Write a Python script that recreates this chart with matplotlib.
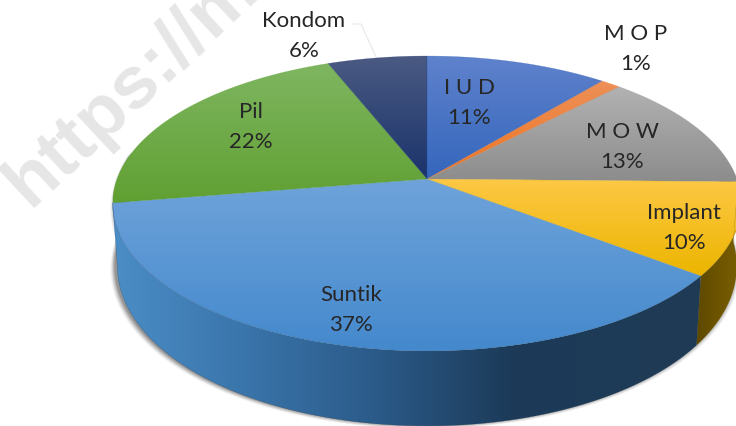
import numpy as np
import matplotlib
matplotlib.use("Agg")
import matplotlib.pyplot as plt
from matplotlib.colors import LinearSegmentedColormap
from matplotlib.patches import Polygon

labels = ["I U D", "M O P", "M O W", "Implant", "Suntik", "Pil", "Kondom"]
# shares, the labels show them rounded
values = [11.0, 1.2, 13.1, 10.1, 37.0, 21.6, 6.0]

top_colors = ["#5f82cc", "#ee9058", "#b2b2b2", "#fdc845", "#6fa3da", "#7fb661", "#4a5a82"]
low_colors = ["#3466bc", "#ed7420", "#8c8c8c", "#ecb500", "#4489cd", "#60a032", "#1a336b"]
label_pos = [(469, 103), (636, 49), (622, 147), (684, 228), (351, 310), (251, 127), (304, 36)]

plt.rcParams["font.family"] = ["Lato", "DejaVu Sans"]

# picture is laid out in pixel coordinates
fig = plt.figure(figsize=(7.36, 4.27), dpi=100)
ax = fig.add_axes([0, 0, 1, 1])
ax.axis("off")

cx, cy, rx = 427, 180, 310
c, a = 0.166, -113.5


def rim(theta, bottom=False):
    # theta in degrees clockwise from the back of the pie, perspective projection
    t = np.radians(theta)
    u, v = np.sin(t), np.cos(t)
    x = rx * u / (1 + c * v)
    y = (a * v + cy) / (1 + c * v)
    if bottom:
        x = x * 0.985
        y = y + 60 - 15 * v
    return cx + x, y


def gradient(poly, colors, horizontal=False, stops=None):
    xs, ys = poly[:, 0], poly[:, 1]
    patch = Polygon(poly, closed=True, fc="none", ec="none")
    ax.add_patch(patch)
    if stops is None:
        stops = np.linspace(0, 1, len(colors))
    cmap = LinearSegmentedColormap.from_list("g", list(zip(stops, colors)))
    g = np.linspace(0, 1, 256)
    g = g.reshape(1, -1) if horizontal else g.reshape(-1, 1)
    im = ax.imshow(g, cmap=cmap, vmin=0, vmax=1, aspect="auto",
                   extent=[xs.min(), xs.max(), ys.max(), ys.min()],
                   interpolation="bilinear", zorder=2)
    im.set_clip_path(patch)
    # thin edge hides the hard clip
    ax.add_patch(Polygon(poly, closed=True, fc="none", ec=colors[-1], lw=0.3, alpha=0.5, zorder=2.1))


# watermark
ax.text(30, 208, "https://me", rotation=43, rotation_mode="anchor", ha="left", va="baseline",
        fontsize=54, fontweight="bold", color="#e6e6e6", family="Liberation Sans", zorder=1)

# Kondom leader line
ax.plot([352, 361, 377], [25, 25, 60], color="#e8e8e8", lw=0.8, zorder=1.5)

edges = 360 * np.cumsum([0] + values) / sum(values)

# soft shadow under the side wall
th = np.linspace(80, 280, 200)
bx, by = rim(th, bottom=True)
for grow, alpha in zip([5, 4, 3, 2, 1], [0.06, 0.1, 0.14, 0.18, 0.24]):
    sx = cx + (bx - cx) * (1 + grow / 310) - 2
    sy = by + grow * 0.8 - 1
    ax.fill(np.r_[sx, sx[::-1]], np.r_[sy, sy[::-1] - 60], color="#404040", alpha=alpha, lw=0, zorder=1.6)

# side wall, only Implant and Suntik face the viewer
for i, wall_colors, stops in [(3, ["#5e4900", "#6e5500", "#7a5f00"], None),
                              (4, ["#4b8dc6", "#3a75ab", "#2b5a88", "#1c3a58", "#1f3b55"], [0, 0.22, 0.45, 0.68, 1])]:
    th = np.linspace(edges[i], edges[i + 1], 120)
    xt, yt = rim(th)
    xb, yb = rim(th, bottom=True)
    poly = np.column_stack([np.r_[xt, xb[::-1]], np.r_[yt, yb[::-1]]])
    gradient(poly, wall_colors, horizontal=True, stops=stops)

# top of the pie
for i in range(len(values)):
    th = np.linspace(edges[i], edges[i + 1], 120)
    xt, yt = rim(th)
    poly = np.column_stack([np.r_[cx, xt], np.r_[cy, yt]])
    gradient(poly, [top_colors[i], low_colors[i]])

for name, val, pos in zip(labels, values, label_pos):
    ax.text(pos[0], pos[1], f"{name}\n{val:.0f}%", ha="center", va="center", fontsize=16,
            color="#262626", linespacing=1.65, zorder=5)

ax.set_xlim(0, 736)
ax.set_ylim(427, 0)
fig.savefig("out.png", dpi=100)
